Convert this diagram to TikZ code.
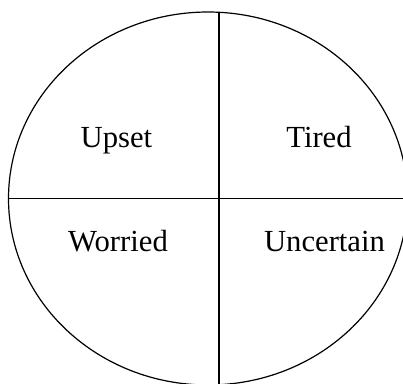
\documentclass[tikz,border=0pt]{standalone}
\usepackage{fontspec}
\setmainfont{Liberation Serif}
\begin{document}
\begin{tikzpicture}[x=0.75pt,y=-0.75pt,
  lbl/.style={anchor=base,inner sep=0pt,font=\fontsize{23}{27}\selectfont},
  rim/.style={line width=0.9pt},
  divider/.style={line width=1.1pt}]
\useasboundingbox (0,0) rectangle (403,383);
\begin{scope}
\clip (0,0) rectangle (403,383);
\draw[rim] (208,198.5) ellipse [x radius=199.5, y radius=186.5];
\coordinate (ctop) at (219,12.5);
\coordinate (cbot) at (219,390);
\coordinate (cleft) at (8.5,198.5);
\coordinate (cright) at (410,198.5);
\draw[divider] (ctop) -- (cbot);
\draw[divider] (cleft) -- (cright);
\end{scope}
\node[lbl] (upset) at (116.5,147) {Upset};
\node[lbl] (tired) at (319,147) {Tired};
\node[lbl] (worried) at (118,251.5) {Worried};
\node[lbl] (uncertain) at (324.5,251.5) {Uncertain};
\end{tikzpicture}
\end{document}
